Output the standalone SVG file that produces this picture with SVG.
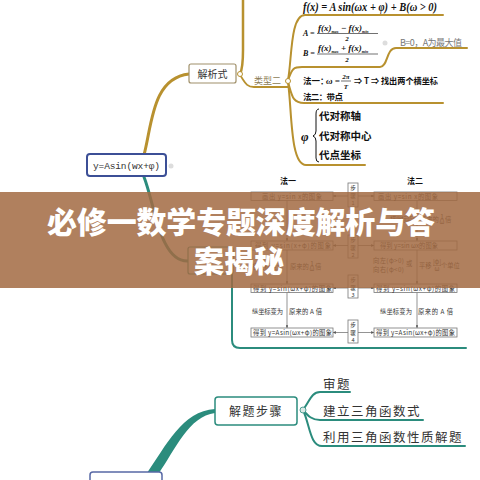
<svg xmlns="http://www.w3.org/2000/svg" width="480" height="480" viewBox="0 0 480 480">
<defs>
<style>
.gold{fill:none;stroke:#b8912f;stroke-linecap:round}
.teal{fill:none;stroke:#2b8c7d;stroke-linecap:round}
.fl{fill:none;stroke:#666;stroke-width:0.7}
.fbox{fill:#fff;stroke:#777;stroke-width:0.8}
.ft{font-family:"Noto Sans CJK SC",sans-serif;font-size:6.3px;fill:#333}
.st{font-family:"Noto Sans CJK SC",sans-serif;font-size:5.6px;fill:#333;text-anchor:middle}
.fm{font-family:"Liberation Serif","Noto Sans CJK SC",serif;font-style:italic;font-weight:bold;fill:#111}
.cj{font-family:"Noto Sans CJK SC",sans-serif;font-weight:bold;fill:#111}
.node{font-family:"Noto Sans CJK SC",sans-serif;fill:#333}
</style>
<marker id="ah" viewBox="0 0 6 6" refX="6" refY="3" markerWidth="4" markerHeight="4" orient="auto">
<path d="M0,0 L6,3 L0,6 Z" fill="#555"/>
</marker>
</defs>
<rect width="480" height="480" fill="#fff"/>

<g id="connectors">
<path class="gold" stroke-width="3" d="M144,155 C152,125 152,78 189,74"/>
<path class="gold" stroke-width="2.5" d="M240,74 C243,68 243,60 243,50 L243,0"/>
<path class="gold" stroke-width="1.8" d="M240,75 C245,82 246,87 254,87 L288,87"/>
<path class="gold" stroke-width="2" d="M288,80 C292,60 290,15 305,15 L443,15"/>
<path class="gold" stroke-width="2" d="M288,80 C292,70 292,67 302,67 L380,67 C388,67 386,48 396,48 L467,48"/>
<path class="gold" stroke-width="2" d="M288,82 C292,95 292,103 304,103 L443,103"/>
<path class="gold" stroke-width="2" d="M288,82 C292,110 290,165 306,165 L365,165"/>
<path class="teal" stroke-width="3" d="M144,177 C155,205 160,262 188,261"/>
<path class="teal" stroke-width="2" d="M229,261 C232,265 232,270 232,280 L232,340 Q232,348 240,348 L466,348"/>
<path fill="#2b8c7d" d="M147,473 C166,446 182,411 215,409 L215,413 C189,416 175,450 159,473 Z"/>
<path class="teal" stroke-width="2" d="M303,410 C310,400 312,392 320,392 L350,392"/>
<path class="teal" stroke-width="2" d="M303,410 C308,416 312,420 320,420 L423,420"/>
<path class="teal" stroke-width="2" d="M303,410 C310,425 310,446 322,446 L465,446"/>
</g>

<g id="node-center">
<rect x="87" y="154" width="79" height="22" rx="3" fill="#fff" stroke="#3c4f96" stroke-width="2"/>
<text x="93" y="169" font-family="Liberation Mono, monospace" font-size="9.5" fill="#333" textLength="67">y=Asin(wx+φ)</text>
<circle cx="171" cy="166" r="2.5" fill="#ddd"/>
</g>

<g id="node-jiexishi">
<rect x="189" y="64" width="47" height="19" rx="2" fill="#fff" stroke="#a0906a" stroke-width="1.2"/>
<text x="212.5" y="77.5" class="node" font-size="10" text-anchor="middle">解析式</text>
<circle cx="240" cy="74" r="2.5" fill="#fff" stroke="#b8912f" stroke-width="1"/>
</g>

<g id="node-leixing2">
<text x="254" y="84" font-family="Noto Sans CJK SC, sans-serif" font-size="9" fill="#8c7c55">类型二</text>
<circle cx="288" cy="81" r="2.5" fill="#fff" stroke="#b8912f" stroke-width="1"/>
</g>

<g id="node-fx">
<text x="303" y="11" class="fm" font-size="13" textLength="134" lengthAdjust="spacingAndGlyphs">f(x) = A sin(ωx + φ) + B(ω &gt; 0)</text>
</g>

<g id="node-AB">
<text x="303" y="36" class="fm" font-size="8">A =</text>
<text x="318" y="31" class="fm" font-size="9">f(x)<tspan font-size="4" dy="1.5">max</tspan><tspan dy="-1.5"> − f(x)</tspan><tspan font-size="4" dy="1.5">min</tspan></text>
<line x1="317" y1="33.5" x2="378" y2="33.5" stroke="#111" stroke-width="0.6"/>
<text x="347" y="41" class="fm" font-size="7" text-anchor="middle">2</text>
<text x="303" y="56" class="fm" font-size="8">B =</text>
<text x="318" y="51" class="fm" font-size="9">f(x)<tspan font-size="4" dy="1.5">max</tspan><tspan dy="-1.5"> + f(x)</tspan><tspan font-size="4" dy="1.5">min</tspan></text>
<line x1="317" y1="54" x2="378" y2="54" stroke="#111" stroke-width="0.6"/>
<text x="347" y="62" class="fm" font-size="7" text-anchor="middle">2</text>
</g>

<g id="node-B0">
<circle cx="385" cy="43" r="2.5" fill="#ddd"/>
<text x="400" y="46" font-family="Noto Sans CJK SC, sans-serif" font-size="9" fill="#777" textLength="62">B=0，A为最大值</text>
</g>

<g id="node-fa">
<text x="303" y="84" class="cj" font-size="8.5">法一：</text>
<text x="326" y="84" class="fm" font-size="9">ω =</text>
<text x="346" y="79" class="fm" font-size="7" text-anchor="middle">2π</text>
<line x1="341" y1="81" x2="351" y2="81" stroke="#111" stroke-width="0.6"/>
<text x="346" y="88.5" class="fm" font-size="7" text-anchor="middle">T</text>
<text x="354" y="84" class="cj" font-size="8.5" textLength="84" lengthAdjust="spacingAndGlyphs">⇒ T ⇒ 找出两个横坐标</text>
<text x="303" y="100" class="cj" font-size="8.5" textLength="40">法二：带点</text>
</g>

<g id="node-phi">
<text x="301" y="141" class="fm" font-size="13">φ</text>
<path d="M319,109 Q316,109 316,114 L316,131 Q316,135 313,136 Q316,137 316,141 L316,158 Q316,162 319,162" fill="none" stroke="#111" stroke-width="1"/>
<text x="319" y="119.5" class="cj" font-size="10.5">代对称轴</text>
<text x="319" y="139.5" class="cj" font-size="10.5">代对称中心</text>
<text x="319" y="158.5" class="cj" font-size="10.5">代点坐标</text>
</g>

<g id="node-hidden">
<rect x="188" y="247" width="45" height="27" rx="2" fill="#fff" stroke="#2b8c7d" stroke-width="1.2"/>
</g>

<g id="node-flowchart">
<text x="288" y="184" class="cj" font-size="8" text-anchor="middle">法一</text>
<text x="415" y="184" class="cj" font-size="8" text-anchor="middle">法二</text>
<line class="fl" x1="287" y1="200" x2="287" y2="241" marker-end="url(#ah)"/>
<line class="fl" x1="287" y1="250" x2="287" y2="284" marker-end="url(#ah)"/>
<line class="fl" x1="287" y1="292" x2="287" y2="328" marker-end="url(#ah)"/>
<line class="fl" x1="417" y1="200" x2="417" y2="241" marker-end="url(#ah)"/>
<line class="fl" x1="417" y1="250" x2="417" y2="284" marker-end="url(#ah)"/>
<line class="fl" x1="417" y1="292" x2="417" y2="328" marker-end="url(#ah)"/>
<line class="fl" x1="348" y1="196" x2="333" y2="196" marker-end="url(#ah)"/>
<line class="fl" x1="358" y1="196" x2="374" y2="196" marker-end="url(#ah)"/>
<line class="fl" x1="348" y1="245.5" x2="333" y2="245.5" marker-end="url(#ah)"/>
<line class="fl" x1="358" y1="245.5" x2="374" y2="245.5" marker-end="url(#ah)"/>
<line class="fl" x1="348" y1="288" x2="333" y2="288" marker-end="url(#ah)"/>
<line class="fl" x1="358" y1="288" x2="374" y2="288" marker-end="url(#ah)"/>
<line class="fl" x1="348" y1="332.5" x2="333" y2="332.5" marker-end="url(#ah)"/>
<line class="fl" x1="358" y1="332.5" x2="374" y2="332.5" marker-end="url(#ah)"/>

<rect class="fbox" x="251" y="192" width="82" height="8.5"/>
<rect class="fbox" x="374" y="192" width="83" height="8.5"/>
<text class="ft" x="262" y="198.8" textLength="60">画出 y=sin x的图象</text>
<text class="ft" x="378" y="198.8" textLength="60">画出 y=sin x的图象</text>

<rect class="fbox" x="251" y="241" width="82" height="9"/>
<rect class="fbox" x="374" y="241" width="83" height="9"/>
<text class="ft" x="255" y="248" textLength="76">得到 y=sin(x+φ)的图象</text>
<text class="ft" x="380" y="248" textLength="58">得到 y=sin ωx的图象</text>

<rect class="fbox" x="251" y="284" width="82" height="8.5"/>
<rect class="fbox" x="374" y="284" width="83" height="8.5"/>
<text class="ft" x="253" y="290.8" textLength="79">得到 y=sin(ωx+φ)的图象</text>
<text class="ft" x="376" y="290.8" textLength="79">得到 y=sin(ωx+φ)的图象</text>

<rect class="fbox" x="251" y="328" width="82" height="9"/>
<rect class="fbox" x="374" y="328" width="83" height="9"/>
<text class="ft" x="253" y="335" textLength="79">得到 y=Asin(ωx+φ)的图象</text>
<text class="ft" x="376" y="335" textLength="79">得到 y=Asin(ωx+φ)的图象</text>

<rect class="fbox" x="348" y="183" width="10" height="24"/>
<text class="st" x="353" y="190">步</text><text class="st" x="353" y="197.5">骤</text><text class="st" x="353" y="205">1</text>
<rect class="fbox" x="348" y="235" width="10" height="23"/>
<text class="st" x="353" y="242">步</text><text class="st" x="353" y="249.5">骤</text><text class="st" x="353" y="257">2</text>
<rect class="fbox" x="348" y="275" width="10" height="23"/>
<text class="st" x="353" y="282">步</text><text class="st" x="353" y="289.5">骤</text><text class="st" x="353" y="297">3</text>
<rect class="fbox" x="348" y="320" width="10" height="23"/>
<text class="st" x="353" y="327">步</text><text class="st" x="353" y="334.5">骤</text><text class="st" x="353" y="342">4</text>

<text class="ft" x="390" y="222" textLength="28">横坐标变为</text>
<text class="ft" x="420" y="222">原来的</text>
<text class="ft" x="442" y="218.5" font-size="4.5" text-anchor="middle">1</text>
<line x1="440" y1="219.5" x2="444" y2="219.5" stroke="#333" stroke-width="0.4"/>
<text class="ft" x="442" y="224" font-size="4.5" text-anchor="middle">ω</text>
<text class="ft" x="445" y="222">倍</text>

<text class="ft" x="252" y="269" textLength="31">横坐标变为</text>
<text class="ft" x="290" y="269">原来的</text>
<text class="ft" x="312" y="265.5" font-size="4.5" text-anchor="middle">1</text>
<line x1="310" y1="266.5" x2="314" y2="266.5" stroke="#333" stroke-width="0.4"/>
<text class="ft" x="312" y="271" font-size="4.5" text-anchor="middle">ω</text>
<text class="ft" x="315" y="269">倍</text>

<text class="ft" x="373" y="263" textLength="31">向左(φ&gt;0)</text>
<text class="ft" x="406" y="266">或</text>
<text class="ft" x="373" y="272" textLength="31">向右(φ&lt;0)</text>
<text class="ft" x="419" y="268">平移</text>
<text class="ft" x="437" y="264" font-size="5" text-anchor="middle">|φ|</text>
<line x1="433" y1="265.5" x2="441" y2="265.5" stroke="#333" stroke-width="0.4"/>
<text class="ft" x="437" y="271" font-size="5" text-anchor="middle">ω</text>
<text class="ft" x="441" y="268">个单位</text>

<text class="ft" x="252" y="314" textLength="31">纵坐标变为</text>
<text class="ft" x="289" y="314" textLength="33">原来的 A 倍</text>
<text class="ft" x="380" y="314" textLength="32">纵坐标变为</text>
<text class="ft" x="418" y="314" textLength="35">原来的 A 倍</text>
</g>

<g id="node-jieti">
<rect x="215" y="397" width="82" height="28" rx="3" fill="#fff" stroke="#2b8c7d" stroke-width="1.5"/>
<text x="256" y="415.5" class="node" font-size="12" letter-spacing="1.5" text-anchor="middle">解题步骤</text>
<circle cx="303" cy="410" r="3" fill="#d9e9e5" stroke="#2b8c7d" stroke-width="0.8"/>
</g>
<g id="node-shenti"><text x="323" y="389" class="node" font-size="12.5" letter-spacing="1.5">审题</text></g>
<g id="node-jianli"><text x="323" y="416" class="node" font-size="12.5" letter-spacing="1.5">建立三角函数式</text></g>
<g id="node-liyong"><text x="323" y="442" class="node" font-size="12.5" letter-spacing="1.5">利用三角函数性质解题</text></g>

<g id="node-bottom">
<rect x="90" y="472" width="72" height="22" rx="3" fill="#fff" stroke="#5768a5" stroke-width="1.5"/>
</g>

<g id="banner">
<rect x="0" y="192" width="480" height="96" fill="#a26a42" fill-opacity="0.85"/>
<text x="241" y="233" font-family="Noto Sans CJK SC, sans-serif" font-weight="900" font-size="30" fill="#fff" text-anchor="middle" textLength="388">必修一数学专题深度解析与答</text>
<text x="239" y="272" font-family="Noto Sans CJK SC, sans-serif" font-weight="900" font-size="30" fill="#fff" text-anchor="middle">案揭秘</text>
</g>
</svg>
